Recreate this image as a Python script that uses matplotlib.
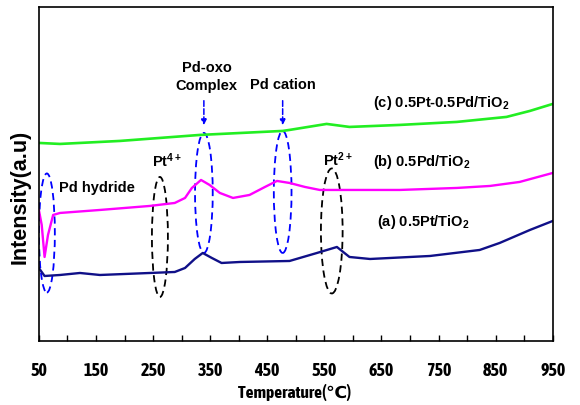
import numpy as np
import matplotlib
matplotlib.use('Agg')
from matplotlib import pyplot as plt
from matplotlib.patches import Ellipse

plt.rcParams['mathtext.fontset'] = 'custom'
plt.rcParams['mathtext.rm'] = 'Liberation Sans'
plt.rcParams['mathtext.bf'] = 'Liberation Sans:bold'
plt.rcParams['mathtext.default'] = 'bf'

# TPR-like traces (temperature in C, intensity in arbitrary units)
temp_a = [50, 60, 87, 122, 157, 244, 288, 306, 323, 337, 353, 370, 402, 489,
          537, 572, 594, 630, 735, 822, 857, 910, 950]
int_a = [73, 65, 66, 68, 66, 68, 69, 73, 82, 88, 83, 78, 79, 80,
         88, 94, 84, 82, 85, 91, 98, 111, 120]

temp_b = [50, 55, 60, 66, 75, 87, 157, 244, 288, 306, 318, 334, 349, 367, 390,
          419, 446, 467, 489, 516, 542, 594, 682, 782, 840, 892, 950]
int_b = [131, 116, 84, 106, 126, 128, 131, 135, 138, 143, 153, 161, 156, 148, 143,
         146, 154, 160, 158, 154, 151, 151, 151, 153, 155, 159, 168]

temp_c = [50, 87, 192, 332, 477, 489, 554, 594, 682, 782, 869, 910, 950]
int_c = [198, 197, 200, 206, 210, 211, 217, 214, 216, 219, 224, 230, 237]

labels = ['(a) 0.5Pt/TiO$_2$', '(b) 0.5Pd/TiO$_2$', '(c) 0.5Pt-0.5Pd/TiO$_2$']
xticks = np.arange(50, 951, 100)

narrow = ['Liberation Sans Narrow', 'Asap Condensed', 'DejaVu Sans']

fig = plt.figure(figsize=(5.8, 4.05), dpi=100)
ax = fig.add_axes([0.067, 0.158, 0.886, 0.825])

ax.plot(temp_a, int_a, color='#101088', lw=1.7)
ax.plot(temp_b, int_b, color='#ff00ff', lw=1.7)
ax.plot(temp_c, int_c, color='#22ee22', lw=1.9)

ax.set_xlim(50, 950)
ax.set_ylim(0, 334)
ax.set_xticks(xticks)
ax.set_xticks(np.arange(50, 951, 50), minor=True)
ax.set_yticks([])
ax.tick_params(axis='x', which='both', direction='in', length=4, width=1, pad=15)
for lab in ax.get_xticklabels():
    lab.set_family(narrow)
    lab.set_fontweight('bold')
    lab.set_fontsize(13)
for s in ax.spines.values():
    s.set_linewidth(1.2)

ax.set_xlabel('Temperature(℃)', fontsize=12.5, fontweight='bold', family=narrow)
ax.xaxis.label.set_va('center')
ax.xaxis.set_label_coords(0.498, -0.153)
ax.set_ylabel('Intensity(a.u)', fontsize=15.5, fontweight='bold', family='Liberation Sans')
ax.yaxis.label.set_va('center')
ax.yaxis.set_label_coords(-0.036, 0.43)

# dashed ellipses
ells = [(64, 108, 28, 119, 'blue'), (262, 104, 28, 120, 'black'),
        (339, 148, 31, 120, 'blue'), (477, 149, 31, 122, 'blue'),
        (563, 110, 38, 125, 'black')]
for x, y, w, h, c in ells:
    ax.add_patch(Ellipse((x, y), w, h, fill=False, ls=(0, (4, 2.5)), lw=1.3, ec=c))

for x in (339, 477):
    ax.annotate('', xy=(x, 213), xytext=(x, 243),
                arrowprops=dict(arrowstyle='-|>', color='blue', lw=1.1, ls='--',
                                mutation_scale=8))

tk = dict(fontsize=10.5, fontweight='bold', family='Liberation Sans', va='center')
ax.text(344, 264, 'Pd-oxo\nComplex', ha='center', linespacing=1.3, **tk)
ax.text(419, 256, 'Pd cation', ha='left', **tk)
ax.text(85, 153, 'Pd hydride', ha='left', **tk)
ax.text(248, 180, 'Pt$^{4+}$', ha='left', **tk)
ax.text(547, 181, 'Pt$^{2+}$', ha='left', **tk)
ax.text(635, 238, labels[2], ha='left', **tk)
ax.text(635, 179, labels[1], ha='left', **tk)
ax.text(642, 119, labels[0], ha='left', **tk)

fig.savefig('out.png', dpi=100)
